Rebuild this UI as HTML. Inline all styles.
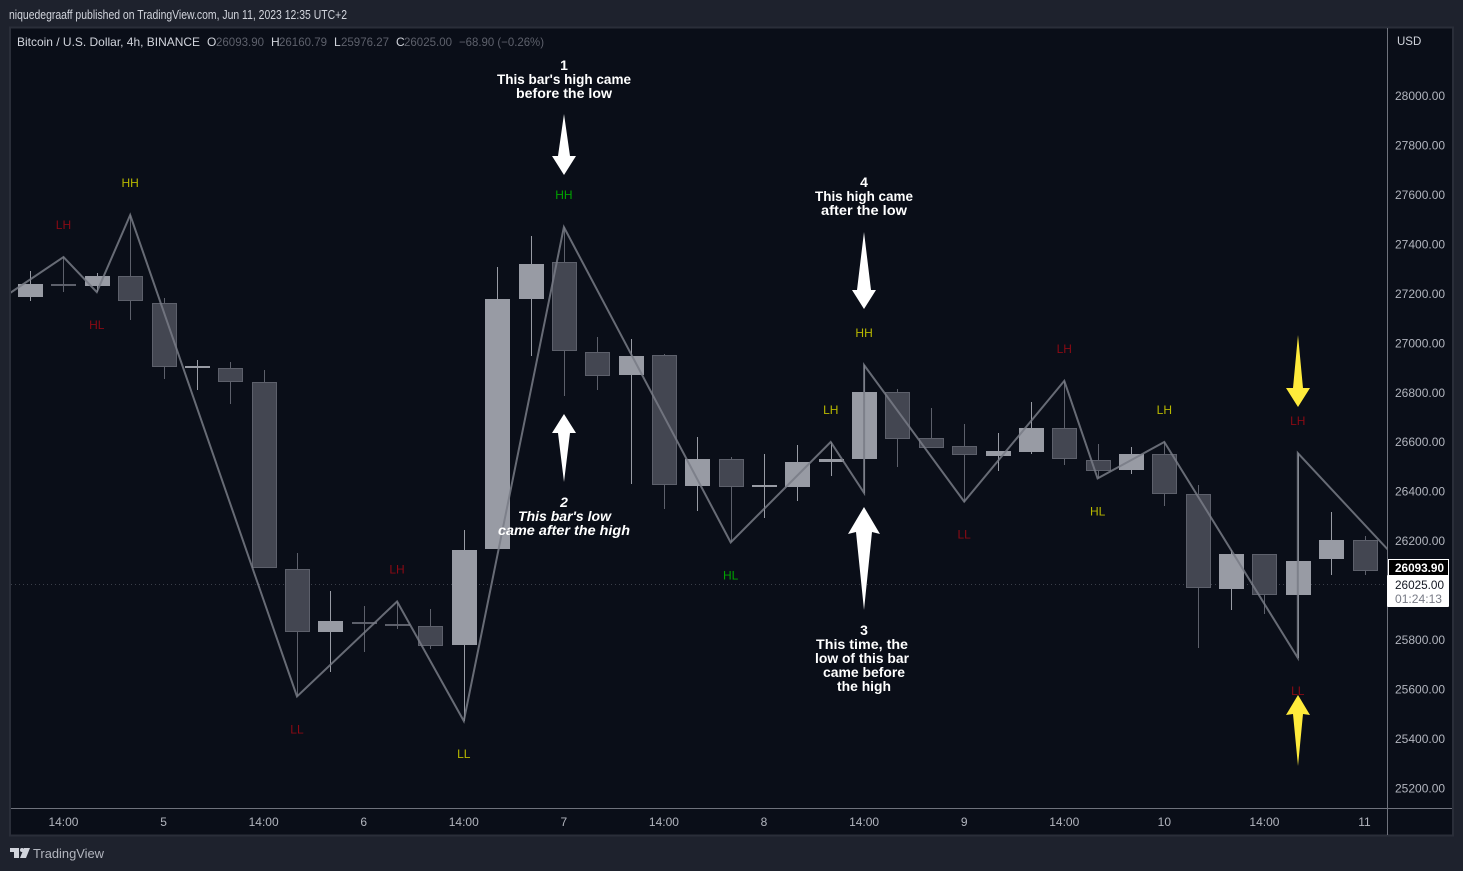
<!DOCTYPE html>
<html lang="en">
<head>
<meta charset="utf-8">
<title>BTCUSD 4h chart</title>
<style>
html,body{margin:0;padding:0;background:#1e222d;width:1463px;height:871px;overflow:hidden}
svg{display:block;font-family:"Liberation Sans",sans-serif}
</style>
</head>
<body>
<svg id="chart" width="1463" height="871" viewBox="0 0 1463 871" xmlns="http://www.w3.org/2000/svg">
  <defs><clipPath id="plot-clip"><rect x="11" y="29" width="1376" height="779"/></clipPath></defs>
  <rect x="0" y="0" width="1463" height="871" fill="#1e222d"/>
  <text x="9" y="19" font-size="13" fill="#d1d4dc" textLength="338" lengthAdjust="spacingAndGlyphs">niquedegraaff published on TradingView.com, Jun 11, 2023 12:35 UTC+2</text>
  <rect x="10" y="27.5" width="1443" height="808" fill="#0a0e18" stroke="#2a2e39" stroke-width="2"/>
  <g id="plot" clip-path="url(#plot-clip)">
    <line x1="11" x2="1387" y1="584.5" y2="584.5" stroke="#3a3e49" stroke-width="1" stroke-dasharray="1 3"/>
    <g id="candles"></g>
    <polyline id="zigzag" fill="none" stroke="#787b86" stroke-opacity="0.85" stroke-width="2" stroke-linejoin="miter"/>
    <g id="pivot-labels" font-size="12" text-anchor="middle"></g>
  </g>

  <g font-size="12">
    <text x="17" y="46" fill="#d1d4dc" textLength="183" lengthAdjust="spacingAndGlyphs">Bitcoin / U.S. Dollar, 4h, BINANCE</text>
    <text x="207" y="46" fill="#d1d4dc">O</text>
    <text x="216" y="46" fill="#5d606b" textLength="48" lengthAdjust="spacingAndGlyphs">26093.90</text>
    <text x="271" y="46" fill="#d1d4dc">H</text>
    <text x="279" y="46" fill="#5d606b" textLength="48" lengthAdjust="spacingAndGlyphs">26160.79</text>
    <text x="334" y="46" fill="#d1d4dc">L</text>
    <text x="341" y="46" fill="#5d606b" textLength="48" lengthAdjust="spacingAndGlyphs">25976.27</text>
    <text x="396" y="46" fill="#d1d4dc">C</text>
    <text x="404" y="46" fill="#5d606b" textLength="48" lengthAdjust="spacingAndGlyphs">26025.00</text>
    <text x="459" y="46" fill="#5d606b" textLength="85" lengthAdjust="spacingAndGlyphs">−68.90 (−0.26%)</text>
  </g>

  <g font-size="14" font-weight="700" fill="#ffffff">
    <text x="564" y="70" text-anchor="middle">1</text>
    <text x="497" y="84" textLength="134" lengthAdjust="spacingAndGlyphs">This bar's high came</text>
    <text x="516" y="98" textLength="96" lengthAdjust="spacingAndGlyphs">before the low</text>
  </g>
  <g font-size="14" font-weight="700" font-style="italic" fill="#ffffff">
    <text x="564" y="507" text-anchor="middle">2</text>
    <text x="518" y="521" textLength="93" lengthAdjust="spacingAndGlyphs">This bar's low</text>
    <text x="498" y="535" textLength="132" lengthAdjust="spacingAndGlyphs">came after the high</text>
  </g>
  <g font-size="14" font-weight="700" fill="#ffffff">
    <text x="864" y="635" text-anchor="middle">3</text>
    <text x="816" y="649" textLength="92" lengthAdjust="spacingAndGlyphs">This time, the</text>
    <text x="815" y="663" textLength="94" lengthAdjust="spacingAndGlyphs">low of this bar</text>
    <text x="823" y="677" textLength="82" lengthAdjust="spacingAndGlyphs">came before</text>
    <text x="837" y="691" textLength="54" lengthAdjust="spacingAndGlyphs">the high</text>
  </g>
  <g font-size="14" font-weight="700" fill="#ffffff">
    <text x="864" y="187" text-anchor="middle">4</text>
    <text x="815" y="201" textLength="98" lengthAdjust="spacingAndGlyphs">This high came</text>
    <text x="821" y="215" textLength="86" lengthAdjust="spacingAndGlyphs">after the low</text>
  </g>

  <polygon fill="#ffffff" points="564,114 570,156 576,156 564,175 552,156 558,156"/>
  <polygon fill="#ffffff" points="564,414 576,433 570,433 564,482 558,433 552,433"/>
  <polygon fill="#ffffff" points="864,507 880,534 872,532 864,610 856,532 848,534"/>
  <polygon fill="#ffffff" points="864,232 871,290 876,290 864,309 852,290 857,290"/>
  <polygon fill="#ffeb3b" points="1298,335 1303,388 1310,388 1298,407 1286,388 1293,388"/>
  <polygon fill="#ffeb3b" points="1298,695 1310,715 1303,714 1298,766 1293,714 1286,715"/>

  <line x1="11" x2="1452" y1="808.5" y2="808.5" stroke="#6f727c"/>
  <line x1="1387.5" x2="1387.5" y1="28" y2="835" stroke="#6f727c"/>
  <g id="price-axis" font-size="12" fill="#b2b5be"></g>
  <g id="time-axis" font-size="12" fill="#b2b5be" text-anchor="middle"></g>
  <text x="1397" y="45" font-size="11.5" fill="#d1d4dc">USD</text>

  <g>
    <rect x="1388.5" y="559.5" width="60" height="16" fill="#000000" stroke="#ffffff"/>
    <text x="1395" y="572" font-size="12" font-weight="700" fill="#ffffff" textLength="49" lengthAdjust="spacingAndGlyphs">26093.90</text>
  </g>
  <g>
    <rect x="1387" y="575" width="62" height="32" rx="1" fill="#ffffff"/>
    <text x="1395" y="589" font-size="12" fill="#131722" textLength="49" lengthAdjust="spacingAndGlyphs">26025.00</text>
    <text x="1395" y="603" font-size="12" fill="#787b86" textLength="47" lengthAdjust="spacingAndGlyphs">01:24:13</text>
  </g>

  <g>
    <g fill="#d1d4dc">
      <polygon points="10,848 19,848 19,858 14,858 14,852 10,852"/>
      <circle cx="22" cy="850" r="2"/>
      <polygon points="24,848 30,848 26,858 20,858"/>
    </g>
    <text x="33" y="858" font-size="13" fill="#b2b5be" textLength="71" lengthAdjust="spacingAndGlyphs">TradingView</text>
  </g>
</svg>

<script>
// Candle data, one entry per 4h bar
const opens  = [27186,27238,27231,27270,27160,26898,26897,26840,26084,25832,25873,25865,25854,25778,26166,27177,27326,26962,26870,26950,26421,26529,26417,26418,26519,26530,26800,26614,26582,26542,26559,26654,26525,26486,26549,26388,26005,26145,25980,26126,26201];
const highs  = [27290,27347,27283,27517,27181,26930,26922,26890,26150,25996,25936,25954,25924,26243,27307,27432,27468,27023,27015,26955,26619,26538,26550,26587,26599,26910,26813,26736,26672,26635,26761,26846,26591,26579,26599,26425,26162,26146,26554,26316,26219];
const lows   = [27170,27207,27205,27093,26855,26810,26754,26088,25570,25669,25751,25842,25763,25471,26166,26948,26786,26810,26430,26329,26321,26193,26293,26360,26463,26393,26499,26576,26358,26483,26550,26507,26452,26470,26340,25766,25920,25905,25726,26061,26061];
const closes = [27238,27232,27270,27170,26901,26906,26840,26088,25832,25875,25865,25857,25775,26162,27177,27319,26968,26867,26947,26426,26530,26418,26425,26518,26532,26801,26612,26576,26548,26563,26656,26531,26480,26550,26390,26010,26146,25982,26118,26203,26079];

// Zigzag pivots: bar index and price, in drawing order
const pivotBars   = [-1,1,2,3,8,11,13,16,21,24,25,25,28,31,32,34,38,38,42];
const pivotPrices = [27165,27347,27205,27517,25570,25954,25471,27468,26193,26599,26393,26910,26358,26846,26452,26599,25726,26554,25976];
// Label printed beside each pivot ('' = none) and its grade
const pivotTexts  = ['','LH','HL','HH','LL','LH','LL','HH','HL','LH','','HH','LL','LH','HL','LH','LL','LH',''];
const pivotGrades = ['','red','red','yellow','red','red','yellow','green','green','yellow','','yellow','red','red','yellow','yellow','red','red',''];

// Axis ticks
const priceTicks = [28000,27800,27600,27400,27200,27000,26800,26600,26400,26200,25800,25600,25400,25200];
const timeTickBars = [1,4,7,10,13,16,19,22,25,28,31,34,37,40];
const timeTickLabels = ['14:00','5','14:00','6','14:00','7','14:00','8','14:00','9','14:00','10','14:00','11'];

// Axis functions
function xOf(bar){ return 30.1 + 33.36 * bar; }
function yOf(price){ return 95.5 + (28000 - price) * 0.24732; }

const NS = 'http://www.w3.org/2000/svg';
function make(tag, attrs, parent){
  const el = document.createElementNS(NS, tag);
  for (const k in attrs) el.setAttribute(k, attrs[k]);
  parent.appendChild(el);
  return el;
}

const gradeFill = {red:'#8b0a14', yellow:'#b8b800', green:'#00a300'};
const LIGHT = '#989ba4', DARK = '#434651', DARK_EDGE = '#5d606b';

const candleLayer = document.getElementById('candles');
opens.forEach(function(open, i){
  const up = closes[i] >= open;
  const cx = Math.round(xOf(i));
  const g = make('g', {}, candleLayer);
  
  
  const wick = make('rect', {
    x: cx, width: 1,
    y: Math.round(yOf(highs[i])),
    height: Math.max(1, Math.round(yOf(lows[i])) - Math.round(yOf(highs[i]))),
    fill: up ? LIGHT : DARK_EDGE
  }, g);
  
  
  const top = Math.round(yOf(Math.max(open, closes[i])));
  const bottom = Math.round(yOf(Math.min(open, closes[i])));
  const h = Math.max(2, bottom - top);
  const attrs = up
    ? {x: cx - 12, y: top, width: 25, height: h, fill: LIGHT}
    : {x: cx - 11.5, y: top + 0.5, width: 24, height: Math.max(1, h - 1), fill: DARK, stroke: DARK_EDGE, 'stroke-width': 1};
  const body = make('rect', attrs, g);
  
  
});

document.getElementById('zigzag').setAttribute('points',
  pivotBars.map(function(b, i){ return xOf(b).toFixed(1) + ',' + yOf(pivotPrices[i]).toFixed(1); }).join(' '));

const labelLayer = document.getElementById('pivot-labels');
pivotTexts.forEach(function(txt, i){
  if (!txt) return;
  const isHigh = txt.charAt(1) === 'H';
  const t = make('text', {
    x: xOf(pivotBars[i]),
    y: yOf(pivotPrices[i]) + (isHigh ? -28 : 37),
    fill: gradeFill[pivotGrades[i]]
  }, labelLayer);
  
  
  t.textContent = txt;
});

const priceAxis = document.getElementById('price-axis');
priceTicks.forEach(function(p){
  const t = make('text', {x: 1395, y: yOf(p) + 4.5}, priceAxis);
  
  
  t.textContent = p.toFixed(2);
});

const timeAxis = document.getElementById('time-axis');
timeTickBars.forEach(function(b, i){
  const t = make('text', {x: xOf(b), y: 826}, timeAxis);
  
  
  t.textContent = timeTickLabels[i];
});
</script>
</body>
</html>
